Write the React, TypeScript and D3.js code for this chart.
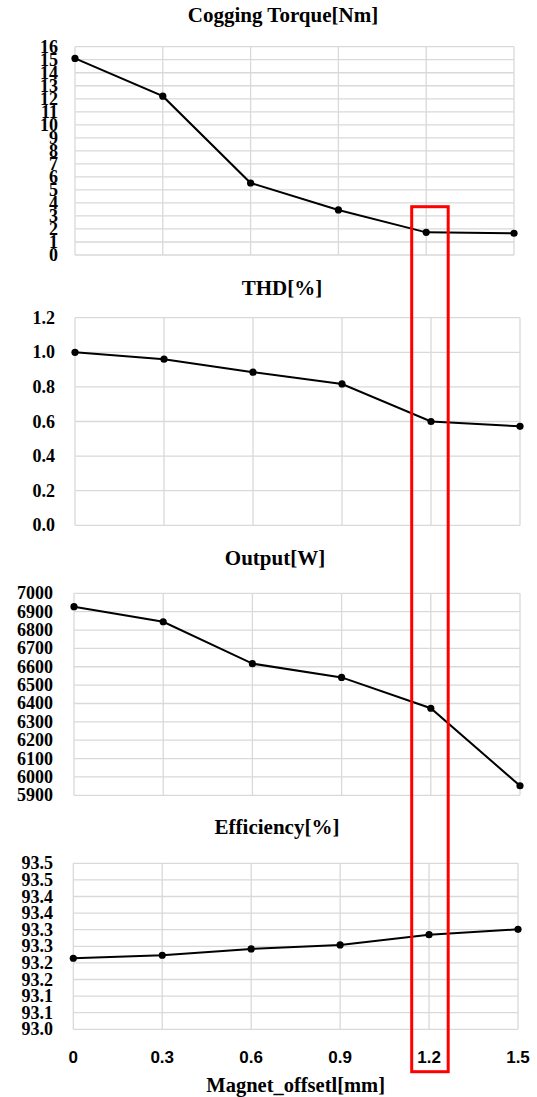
import React from "react";
import * as d3 from "d3";

const offsets = [0, 0.3, 0.6, 0.9, 1.2, 1.5];
const xTickLabels = ["0", "0.3", "0.6", "0.9", "1.2", "1.5"];

const coggingValues = [15.1, 12.2, 5.53, 3.46, 1.74, 1.67];
const coggingTicks = [0, 1, 2, 3, 4, 5, 6, 7, 8, 9, 10, 11, 12, 13, 14, 15, 16];
const coggingTickLabels = coggingTicks.map(String);

const thdValues = [1.0, 0.96, 0.885, 0.817, 0.6, 0.572];
const thdTicks = [0, 0.2, 0.4, 0.6, 0.8, 1.0, 1.2];
const thdTickLabels = ["0.0", "0.2", "0.4", "0.6", "0.8", "1.0", "1.2"];

const outputValues = [6927, 6845, 6617, 6542, 6374, 5952];
const outputTicks = [5900, 6000, 6100, 6200, 6300, 6400, 6500, 6600, 6700, 6800, 6900, 7000];
const outputTickLabels = outputTicks.map(String);

const efficiencyValues = [93.214, 93.223, 93.242, 93.254, 93.285, 93.301];
const efficiencyTicks = [93.0, 93.05, 93.1, 93.15, 93.2, 93.25, 93.3, 93.35, 93.4, 93.45, 93.5];
const efficiencyTickLabels = ["93.0", "93.1", "93.1", "93.2", "93.2", "93.3", "93.3", "93.4", "93.4", "93.5", "93.5"];

const titles = ["Cogging Torque[Nm]", "THD[%]", "Output[W]", "Efficiency[%]"];
const xAxisTitle = "Magnet_offsetl[mm]";

const panels = [
  { title: titles[0], values: coggingValues, ticks: coggingTicks, labels: coggingTickLabels },
  { title: titles[1], values: thdValues, ticks: thdTicks, labels: thdTickLabels },
  { title: titles[2], values: outputValues, ticks: outputTicks, labels: outputTickLabels },
  { title: titles[3], values: efficiencyValues, ticks: efficiencyTicks, labels: efficiencyTickLabels },
];

// layout (pixels)
const layout = [
  { left: 75, right: 514, top: 46.7, bottom: 255, titleX: 283, titleY: 15, labelRight: 58 },
  { left: 75, right: 520, top: 317.7, bottom: 525.3, titleX: 282, titleY: 288, labelRight: 55 },
  { left: 74, right: 520, top: 593.3, bottom: 795.3, titleX: 275, titleY: 558, labelRight: 53 },
  { left: 73.3, right: 518, top: 863.3, bottom: 1029.3, titleX: 277, titleY: 827, labelRight: 53 },
];

const W = 537;
const H = 1097;
const gridColor = "#d9d9d9";
const serif = "'Liberation Serif', 'Times New Roman', serif";
const sans = "'Liberation Sans', Arial, sans-serif";

function Panel({ p, l, showX }: any) {
  const x = d3.scaleLinear().domain([0, 1.5]).range([l.left, l.right]);
  const yMin = p.ticks[0];
  const yMax = p.ticks[p.ticks.length - 1];
  const y = d3.scaleLinear().domain([yMin, yMax]).range([l.bottom, l.top]);
  const line = d3
    .line<number>()
    .x((_, i) => x(offsets[i]))
    .y((d) => y(d));
  return (
    <g>
      <text
        x={l.titleX}
        y={l.titleY}
        textAnchor="middle"
        dominantBaseline="central"
        fontFamily={serif}
        fontWeight="bold"
        fontSize={21}
        fill="#000"
      >
        {p.title}
      </text>
      {p.ticks.map((t: number, i: number) => (
        <line key={"h" + i} x1={l.left} x2={l.right} y1={y(t)} y2={y(t)} stroke={gridColor} strokeWidth={1.3} />
      ))}
      {offsets.map((o, i) => (
        <line key={"v" + i} x1={x(o)} x2={x(o)} y1={l.top} y2={l.bottom} stroke={gridColor} strokeWidth={1.3} />
      ))}
      {p.ticks.map((t: number, i: number) => (
        <text
          key={"yl" + i}
          x={l.labelRight}
          y={y(t)}
          textAnchor="end"
          dominantBaseline="central"
          fontFamily={serif}
          fontWeight="bold"
          fontSize={18}
          fill="#000"
        >
          {p.labels[i]}
        </text>
      ))}
      <path d={line(p.values) || ""} fill="none" stroke="#000" strokeWidth={2} />
      {p.values.map((v: number, i: number) => (
        <circle key={"c" + i} cx={x(offsets[i])} cy={y(v)} r={3.6} fill="#000" />
      ))}
      {showX &&
        offsets.map((o, i) => (
          <text
            key={"xl" + i}
            x={x(o)}
            y={1057}
            textAnchor="middle"
            dominantBaseline="central"
            fontFamily={sans}
            fontWeight="bold"
            fontSize={17}
            fill="#000"
          >
            {xTickLabels[i]}
          </text>
        ))}
      {showX && (
        <text
          x={(l.left + l.right) / 2}
          y={1085}
          textAnchor="middle"
          dominantBaseline="central"
          fontFamily={serif}
          fontWeight="bold"
          fontSize={20.5}
          fill="#000"
        >
          {xAxisTitle}
        </text>
      )}
    </g>
  );
}

export default function App() {
  const hx = d3.scaleLinear().domain([0, 1.5]).range([layout[0].left, layout[0].right]);
  const boxLeft = hx(1.2) - 14.5;
  const boxRight = hx(1.2) + 22;
  return (
    <svg
      width={W}
      height={H}
      style={{ position: "absolute", left: 0, top: 0, background: "#fff" }}
    >
      <rect x={0} y={0} width={W} height={H} fill="#fff" />
      {panels.map((p, i) => (
        <Panel key={i} p={p} l={layout[i]} showX={i === 3} />
      ))}
      <rect
        x={boxLeft}
        y={206.7}
        width={boxRight - boxLeft}
        height={1071.7 - 206.7}
        fill="none"
        stroke="#ff0000"
        strokeWidth={3}
      />
    </svg>
  );
}
